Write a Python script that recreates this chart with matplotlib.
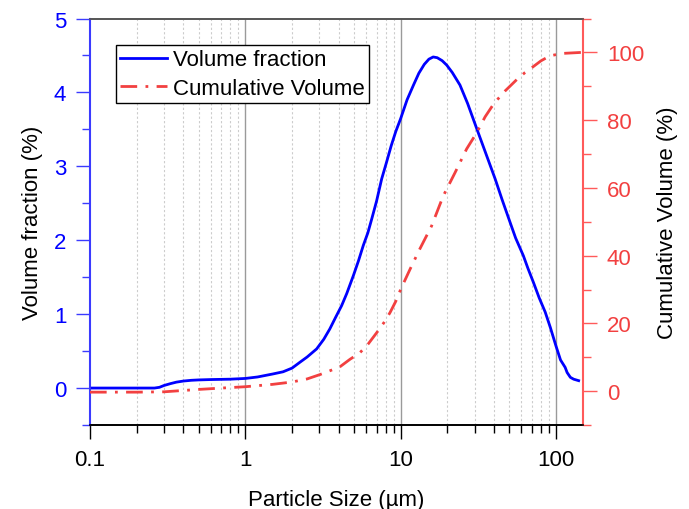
import matplotlib
matplotlib.use("Agg")
import matplotlib.pyplot as plt
from matplotlib.ticker import FixedLocator, NullFormatter, FixedFormatter

plt.rcParams['font.family'] = ['Liberation Sans', 'DejaVu Sans']

# Volume fraction (%) vs particle size (um)
size_vf = [0.1, 0.2, 0.26, 0.28, 0.3, 0.33, 0.36, 0.4, 0.45, 0.5, 0.6, 0.8, 1.0, 1.2,
           1.5, 1.75, 2.0, 2.25, 2.5, 2.88, 3.2, 3.5, 3.8, 4.17, 4.5, 4.96, 5.35, 5.75,
           6.15, 6.52, 7.0, 7.55, 8.1, 8.7, 9.3, 10, 11, 12.1, 13.1, 14.2, 15.2, 16.2,
           17.2, 18.5, 19.8, 21.5, 24.1, 27, 30.9, 35, 40.6, 45, 50.6, 55, 61.7, 66,
           71.6, 78, 85.2, 92, 100, 107, 114.6, 118, 123.8, 130, 140]
vol_frac = [0, 0, 0, 0.01, 0.035, 0.06, 0.08, 0.095, 0.105, 0.11, 0.115, 0.12, 0.13, 0.15,
            0.19, 0.22, 0.27, 0.35, 0.42, 0.53, 0.66, 0.80, 0.95, 1.115, 1.28, 1.52, 1.72, 1.93,
            2.10, 2.29, 2.53, 2.83, 3.05, 3.28, 3.47, 3.645, 3.90, 4.10, 4.26, 4.38, 4.45, 4.48,
            4.47, 4.43, 4.37, 4.27, 4.10, 3.85, 3.51, 3.20, 2.83, 2.55, 2.245, 2.03, 1.79, 1.62,
            1.43, 1.22, 1.03, 0.82, 0.57, 0.38, 0.28, 0.21, 0.145, 0.12, 0.10]

# Cumulative volume (%)
size_cv = [0.1, 0.2, 0.3, 0.4, 0.5, 0.7, 1.0, 1.5, 2.0, 2.5, 3.03, 3.5, 4.07, 4.72, 5.46,
           6.2, 7.0, 7.8, 8.55, 9.3, 10, 11.5, 13.3, 15.8, 18.8, 22.4, 26.6, 30.9, 35,
           40, 47, 56, 63, 70, 80, 91.6, 110, 146]
cum_vol = [-0.3, -0.3, -0.2, 0.2, 0.5, 0.9, 1.3, 2.0, 2.7, 3.6, 4.9, 6.0, 7.2, 9.4, 11.3,
           14.0, 17.2, 20.2, 23.2, 26.5, 30, 36, 42, 48.7, 57.6, 64.5, 71.5, 76.3, 81,
           85, 88.6, 92, 94, 95.5, 97.5, 99, 99.7, 100]

x_major = [0.1, 1, 10, 100]
x_major_labels = ["0.1", "1", "10", "100"]
left_major = [0, 1, 2, 3, 4, 5]
right_major = [0, 20, 40, 60, 80, 100]

BLUE = '#0000ff'
BLUE_AX = '#3b3bff'
RED = '#f24040'
RED_AX = '#ff5a5a'
FS = 16

fig = plt.figure(figsize=(6.89, 5.10), dpi=100)
ax = fig.add_axes([0.1306, 0.1647, 0.716, 0.797])
ax2 = ax.twinx()

ax.set_xscale('log')
ax.set_xlim(0.1, 150)
ax.set_ylim(-0.5, 5)
ax2.set_ylim(-10, 110)

minors = [m * 10.0 ** e for e in range(-1, 2) for m in range(2, 10)]
ax.xaxis.set_major_locator(FixedLocator(x_major))
ax.xaxis.set_major_formatter(FixedFormatter(x_major_labels))
ax.xaxis.set_minor_locator(FixedLocator(minors))
ax.xaxis.set_minor_formatter(NullFormatter())

for xv in x_major[1:]:
    ax.axvline(xv, color='#9a9a9a', lw=1.0, zorder=0)
for xv in minors:
    ax.axvline(xv, color='#cccccc', lw=0.8, ls=(0, (2, 2)), zorder=0)

l1, = ax.plot(size_vf, vol_frac, color=BLUE, lw=2.0, label='Volume fraction', zorder=3)
l2, = ax2.plot(size_cv, cum_vol, color=RED, lw=2.0, dashes=(6, 3, 1, 3),
               label='Cumulative Volume', zorder=3)

ax.yaxis.set_major_locator(FixedLocator(left_major))
ax.yaxis.set_minor_locator(FixedLocator([-0.5, 0.5, 1.5, 2.5, 3.5, 4.5]))
ax2.yaxis.set_major_locator(FixedLocator(right_major))
ax2.yaxis.set_minor_locator(FixedLocator([-10, 10, 30, 50, 70, 90, 110]))

ax.tick_params(axis='x', which='major', direction='out', length=10, width=1.0,
               labelsize=FS, pad=7, colors='black')
ax.tick_params(axis='x', which='minor', direction='out', length=6, width=1.0, colors='black')
ax.tick_params(axis='y', which='major', direction='out', length=10, width=1.0,
               labelsize=FS, pad=7, color=BLUE_AX, labelcolor=BLUE)
ax.tick_params(axis='y', which='minor', direction='out', length=6, width=1.0, color=BLUE_AX)
ax2.tick_params(axis='y', which='major', direction='out', length=10, width=1.0,
                labelsize=FS, pad=7, color=RED_AX, labelcolor=RED)
ax2.tick_params(axis='y', which='minor', direction='out', length=6, width=1.0, color=RED_AX)

for a in (ax, ax2):
    a.spines['left'].set_color(BLUE_AX)
    a.spines['right'].set_color(RED_AX)
    a.spines['top'].set_color('#555555')
    a.spines['bottom'].set_color('black')
    for s in a.spines.values():
        s.set_linewidth(1.2)
ax.spines['left'].set_linewidth(1.5)
ax2.spines['right'].set_linewidth(1.5)

ax.set_xlabel('Particle Size (µm)', fontsize=FS, labelpad=14)
ax.set_ylabel('Volume fraction (%)', fontsize=FS, labelpad=8)
ax2.set_ylabel('Cumulative Volume (%)', fontsize=FS, labelpad=9.5)

leg = ax2.legend([l1, l2], ['Volume fraction', 'Cumulative Volume'],
                 loc='upper left', bbox_to_anchor=(0.052, 0.935), fontsize=FS,
                 frameon=True, fancybox=False, framealpha=1, edgecolor='black',
                 borderpad=0.2, handlelength=2.1, handletextpad=0.27,
                 labelspacing=0.33, borderaxespad=0)
leg.get_frame().set_linewidth(1.0)

fig.savefig('out.png', dpi=100)
